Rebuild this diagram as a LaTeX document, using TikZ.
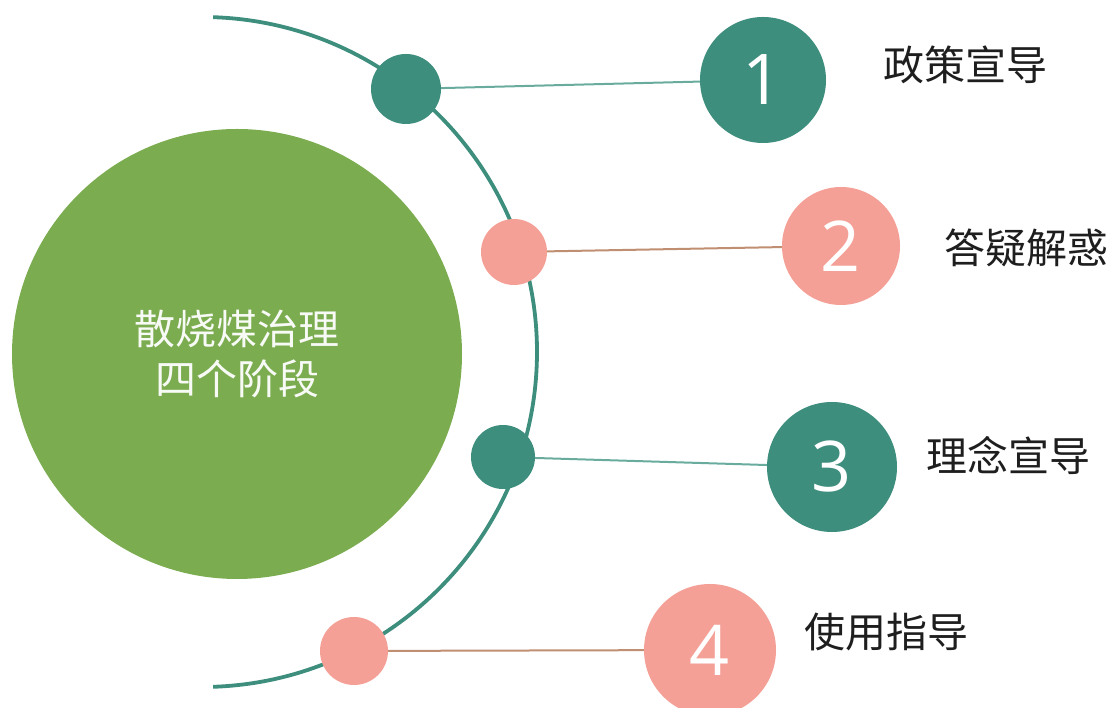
\documentclass[tikz,border=0pt]{standalone}
\usepackage{fontspec}
\newfontfamily\cjk{Noto Sans CJK SC}
\newfontfamily\numfont{Open Sans}
\definecolor{teal1}{RGB}{62,142,126}
\definecolor{tealline}{RGB}{105,172,158}
\definecolor{pink1}{RGB}{244,160,150}
\definecolor{pinkline}{RGB}{192,142,112}
\definecolor{green1}{RGB}{123,172,79}
\definecolor{txt}{RGB}{30,30,30}
\tikzset{
  dot/.style={circle,inner sep=0pt,minimum size=#1,draw=none},
  numc/.style={circle,inner sep=0pt,minimum size=#1,draw=none,text=white,font=\numfont\fontsize{70}{72}\selectfont},
  lab/.style={font=\cjk\fontsize{41}{46}\selectfont,text=txt},
  tline/.style={draw=tealline,line width=2pt},
  pline/.style={draw=pinkline,line width=2pt}
}
\begin{document}
\begin{tikzpicture}[x=1pt,y=1pt]
\useasboundingbox (0,0) rectangle (1114,708);
% arc
\coordinate (arcc) at (202,356);
\draw[teal1,line width=3.8pt] (arcc) ++(88.1:335) arc[start angle=88.1,end angle=-88.1,radius=335];
% main circle
\node[dot=450pt,fill=green1,text=white!94!green1,align=center,font=\cjk\fontsize{41}{50}\selectfont] (main) at (237,354) {散烧煤治理\\四个阶段};
% small circles
\node[dot=70pt,fill=teal1] (s1) at (406,619) {};
\node[dot=66pt,fill=pink1] (s2) at (514,456) {};
\node[dot=64pt,fill=teal1] (s3) at (503,251) {};
\node[dot=68pt,fill=pink1] (s4) at (354,57) {};
% big circles
\node[numc=126pt,fill=teal1] (b1) at (763,628) {1};
\node[numc=118pt,fill=pink1] (b2) at (841,462) {2};
\node[numc=130pt,fill=teal1] (b3) at (832,241) {3};
\node[numc=132pt,fill=pink1] (b4) at (710,58) {4};
% connectors
\draw[tline] (s1) -- (b1);
\draw[pline] (s2) -- (b2);
\draw[tline] (s3) -- (b3);
\draw[pline] (s4) -- (b4);
% labels
\node[lab] (l1) at (965,643) {政策宣导};
\node[lab] (l2) at (1026,460) {答疑解惑};
\node[lab] (l3) at (1008,253) {理念宣导};
\node[lab] (l4) at (886,76) {使用指导};
\end{tikzpicture}
\end{document}
